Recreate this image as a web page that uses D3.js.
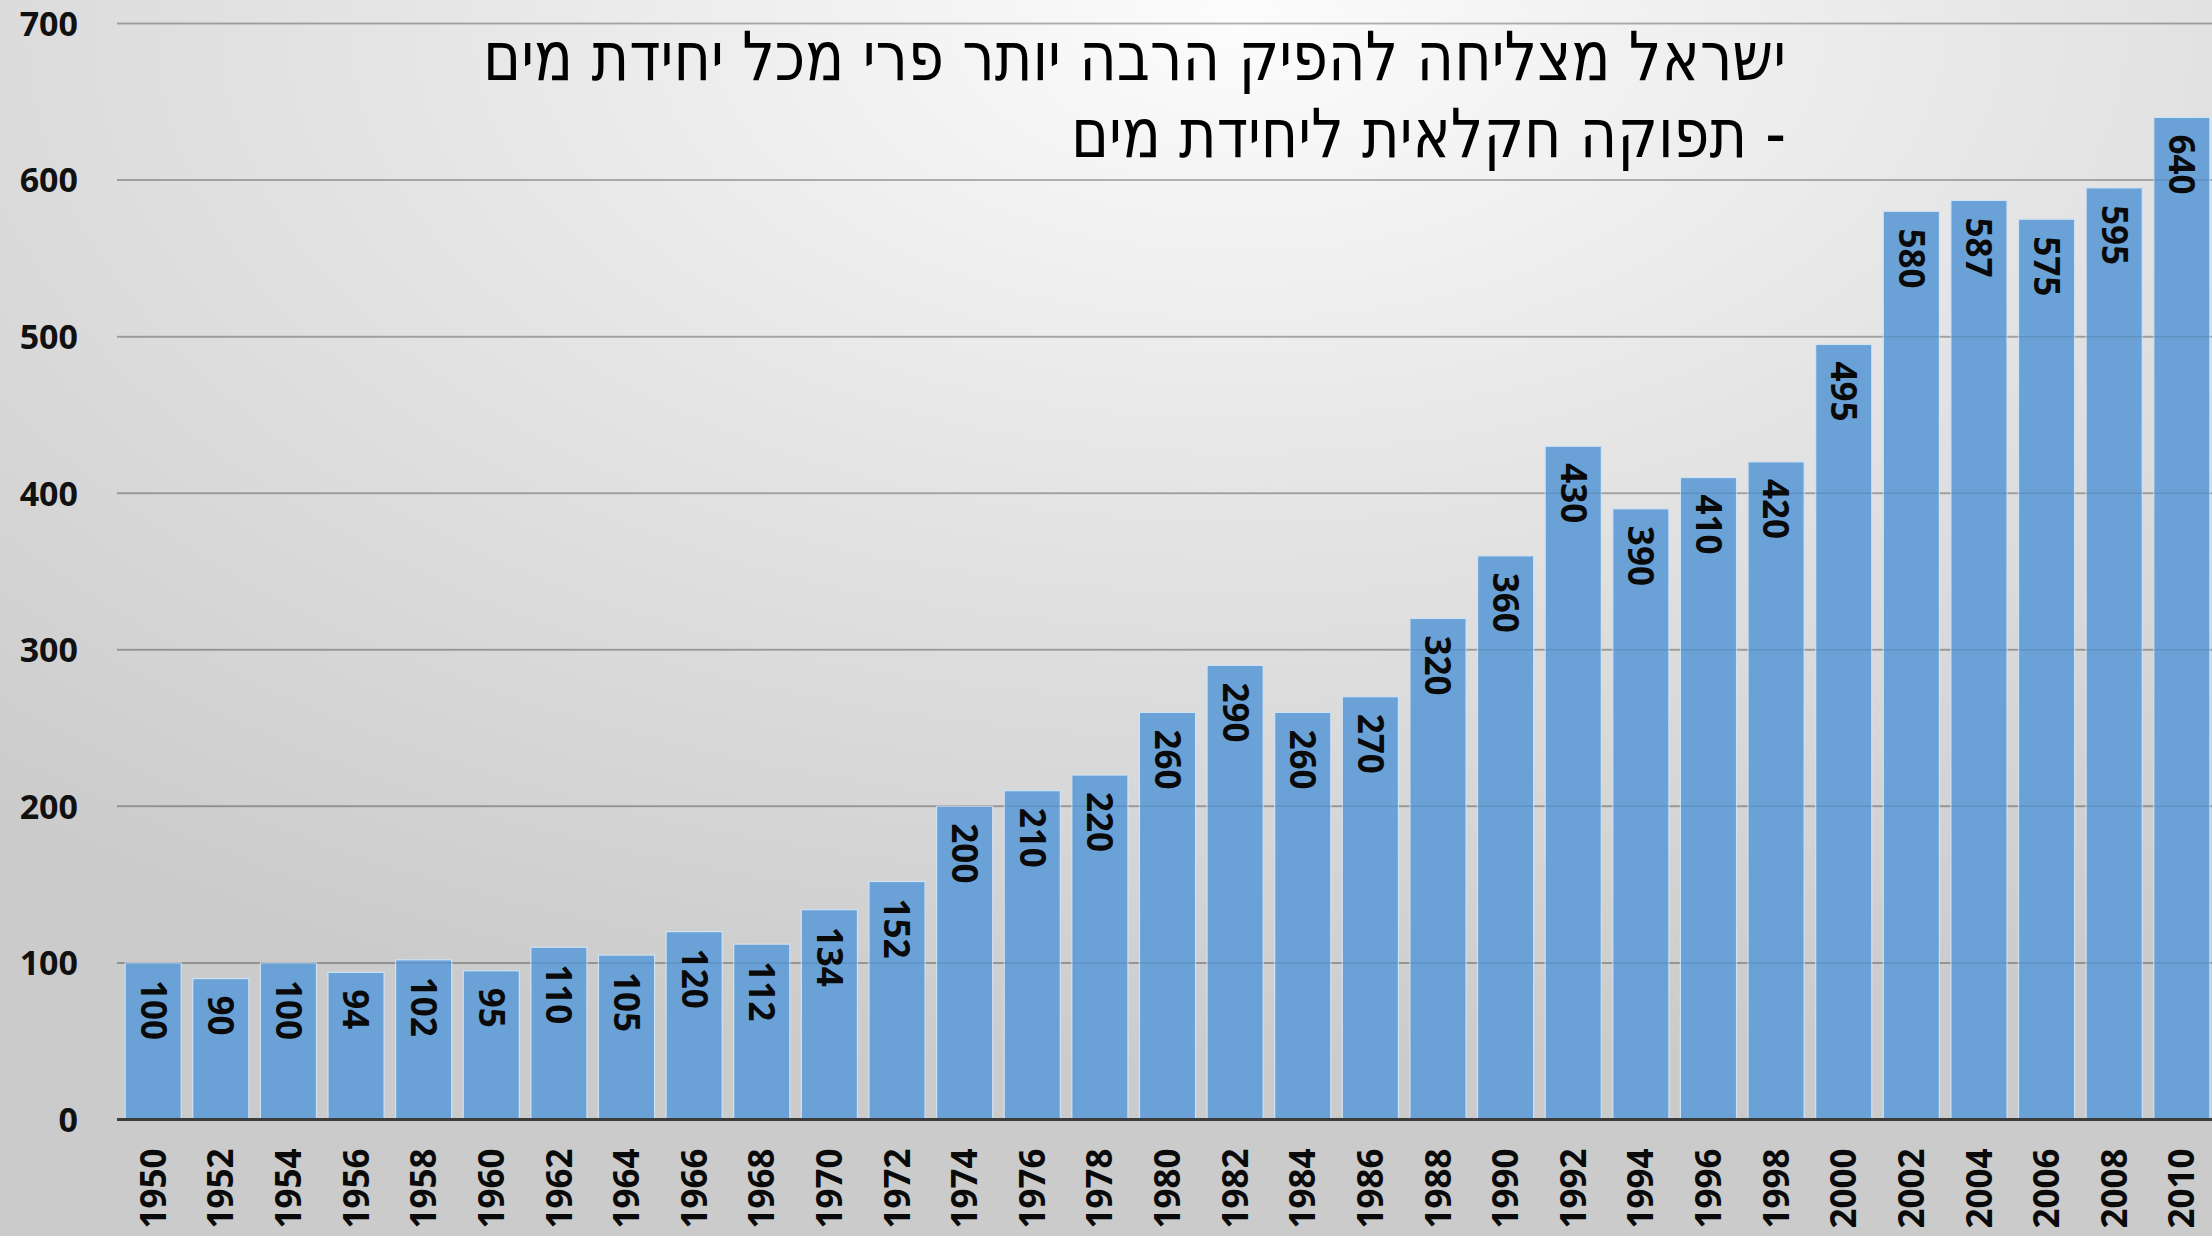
<!DOCTYPE html>
<html><head><meta charset="utf-8">
<script src="https://cdn.jsdelivr.net/npm/d3@7"></script>
<style>
html,body{margin:0;padding:0;overflow:hidden;}
svg{display:block;}
</style>
</head><body>
<svg id="chart" width="2212" height="1236"></svg>
<script>
const years = ["1950","1952","1954","1956","1958","1960","1962","1964","1966","1968","1970","1972","1974","1976","1978","1980","1982","1984","1986","1988","1990","1992","1994","1996","1998","2000","2002","2004","2006","2008","2010"];
const values = [100,90,100,94,102,95,110,105,120,112,134,152,200,210,220,260,290,260,270,320,360,430,390,410,420,495,580,587,575,595,640];
const yTicks = [0,100,200,300,400,500,600,700];
const titleLines = ["ישראל מצליחה להפיק הרבה יותר פרי מכל יחידת מים","- תפוקה חקלאית ליחידת מים"];

const W = 2212, H = 1236;
const svg = d3.select("#chart");
const defs = svg.append("defs");
const grad = defs.append("radialGradient").attr("id","bg")
  .attr("cx","0.56").attr("cy","0.02").attr("r","0.85").attr("fx","0.56").attr("fy","0.02");
grad.append("stop").attr("offset","0").attr("stop-color","#fcfcfc");
grad.append("stop").attr("offset","0.45").attr("stop-color","#e5e5e5");
grad.append("stop").attr("offset","1").attr("stop-color","#cbcbcb");
svg.append("rect").attr("width",W).attr("height",H).attr("fill","url(#bg)");

const x = d3.scaleBand().domain(years).range([117, 2218]).paddingInner(0.17).paddingOuter(0.12);
const y = d3.scaleLinear().domain([0,700]).range([1119.5, 23.5]);
const font = "'Open Sans', 'Liberation Sans', sans-serif";

// y axis labels
const yAxis = d3.axisLeft(y).tickValues(yTicks).tickSize(0).tickPadding(0);
const gy = svg.append("g").attr("transform","translate(78,0)").call(yAxis);
gy.select(".domain").remove();
gy.selectAll("text").attr("font-family",font).attr("font-weight","bold").attr("font-size",34).attr("fill","#111").attr("dy","0.35em");

const gridVals = yTicks.filter(d=>d>0);
// gridlines behind bars
svg.append("g").selectAll("line").data(gridVals).join("line")
  .attr("x1",117).attr("x2",W).attr("y1",d=>y(d)).attr("y2",d=>y(d))
  .attr("stroke","rgba(0,0,0,0.22)").attr("stroke-width",2);

// bars
svg.append("g").selectAll("rect").data(values).join("rect")
  .attr("x",(d,i)=>x(years[i])).attr("width",x.bandwidth())
  .attr("y",d=>y(d)).attr("height",d=>y(0)-y(d))
  .attr("fill","#6aa2d7").attr("stroke","#cfe2f3").attr("stroke-width",1.2);

// faint gridlines showing through bars
svg.append("g").selectAll("line").data(gridVals).join("line")
  .attr("x1",117).attr("x2",W).attr("y1",d=>y(d)).attr("y2",d=>y(d))
  .attr("stroke","rgba(0,0,0,0.1)").attr("stroke-width",1.5);

// value labels
svg.append("g").selectAll("text").data(values).join("text")
  .attr("transform",(d,i)=>`translate(${x(years[i])+x.bandwidth()/2},${y(d)+17}) rotate(90)`)
  .attr("text-anchor","start").attr("dy","0.36em")
  .attr("font-family",font).attr("font-weight","bold").attr("font-size",35).attr("fill","#0a0a0a")
  .text(d=>d);

// x axis
const xAxis = d3.axisBottom(x).tickSize(0).tickPadding(0);
const gx = svg.append("g").attr("transform",`translate(0,${y(0)})`).call(xAxis);
gx.select(".domain").remove();
gx.selectAll("text").attr("font-family",font).attr("font-weight","bold").attr("font-size",35).attr("fill","#0a0a0a")
  .attr("text-anchor","end").attr("transform","translate(0,29) rotate(-90)").attr("x",0).attr("y",0).attr("dy","0.36em");
svg.append("line").attr("x1",117).attr("x2",W).attr("y1",y(0)).attr("y2",y(0)).attr("stroke","#3c3c3c").attr("stroke-width",3);

// title
const tg = svg.append("g");
const tfont = "'DejaVu Sans','Noto Sans',sans-serif";
const targetW = [1303, 715];
const baselines = [80, 157];
titleLines.forEach((t,i)=>{
  tg.append("text").attr("x",1786).attr("y",baselines[i])
    .attr("direction","rtl").attr("text-anchor","start")
    .attr("font-family",tfont).attr("font-size",68).attr("fill","#000")
    .attr("textLength",targetW[i]).attr("lengthAdjust","spacingAndGlyphs")
    .text(t);
});
</script>
</body></html>
